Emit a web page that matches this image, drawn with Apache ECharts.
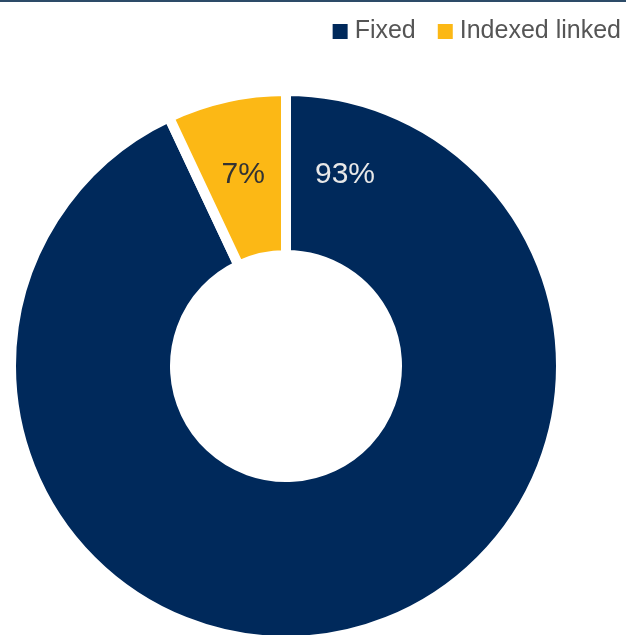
<!DOCTYPE html>
<html>
<head>
	<meta charset="utf-8">
	<title>Fixed vs Indexed linked</title>
	<script src="https://cdn.jsdelivr.net/npm/echarts@6/dist/echarts.min.js"></script>
	<style>
		html, body { margin: 0; padding: 0; background: #fff; }
	</style>
</head>
<body>
	<div id="main" style="width: 630px;height: 635px"></div>
	<script type="text/javascript">
		var categories = ['Fixed', 'Indexed linked'];
		var values = [93, 7];
		var colors = ['#00295b', '#fcb815'];
		var labelColors = ['#e8e8e8', '#333333'];

		var myChart = echarts.init(document.getElementById('main'));

		var pieData = categories.map(function (name, i) {
			return {
				name: name,
				value: values[i],
				itemStyle: {color: colors[i]},
				label: {color: labelColors[i]}
			};
		});

		var option = {
			backgroundColor: '#ffffff',
			animation: false,
			graphic: [
				{
					type: 'rect',
					shape: {x: 0, y: 0, width: 626, height: 2},
					style: {fill: '#2d4b68'}
				}
			],
			legend: {
				data: categories,
				right: 4,
				top: 14,
				icon: 'rect',
				itemWidth: 15,
				itemHeight: 15,
				itemGap: 22,
				itemStyle: {borderWidth: 0, borderColor: 'transparent'},
				textStyle: {
					fontFamily: 'Liberation Sans',
					fontSize: 25,
					color: '#555555',
					padding: [0, 0, 0, 2]
				}
			},
			series: [
				{
					name: 'type',
					type: 'pie',
					center: [286, 366],
					radius: [111, 275],
					startAngle: 90,
					clockwise: true,
					avoidLabelOverlap: false,
					itemStyle: {
						borderColor: '#ffffff',
						borderWidth: 10
					},
					label: {
						show: true,
						position: 'inside',
						formatter: '{c}%',
						fontFamily: 'Liberation Sans',
						fontSize: 30
					},
					labelLine: {show: false},
					labelLayout: function (params) {
						if (params.dataIndex === 0) {
							return {x: 345, y: 175, align: 'center', verticalAlign: 'middle'};
						}
					},
					emphasis: {disabled: true},
					data: pieData
				}
			]
		};

		myChart.setOption(option);
	</script>
</body>
</html>
